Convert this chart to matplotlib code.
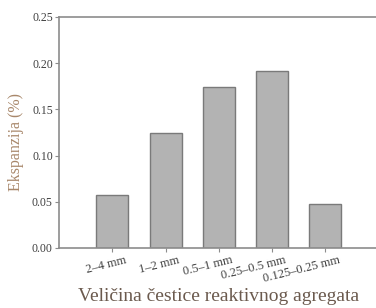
import matplotlib

matplotlib.use("Agg")
import matplotlib.pyplot as plt
import matplotlib.transforms as mtransforms

categories = ["2\u20134 mm", "1\u20132 mm", "0.5\u20131 mm", "0.25\u20130.5 mm", "0.125\u20130.25 mm"]
expansion = [0.057, 0.124, 0.174, 0.191, 0.048]
y_ticks = [0.00, 0.05, 0.10, 0.15, 0.20, 0.25]

plt.rcParams["font.family"] = ["Liberation Serif", "DejaVu Serif"]

fig = plt.figure(figsize=(3.76, 3.08), dpi=100)
ax = fig.add_axes([0.157, 0.195, 0.85, 0.75])

x = list(range(len(categories)))
ax.bar(x, expansion, width=0.6, color="#b3b3b3", edgecolor="#7a7a7a", linewidth=1.0)

ax.set_xlim(-1, 5)
ax.set_ylim(0, 0.25)
ax.set_yticks(y_ticks)
ax.set_yticklabels([f"{v:.2f}" for v in y_ticks])
ax.set_xticks(x)
ax.set_xticklabels(categories, rotation=14, ha="right", rotation_mode="anchor")

for side in ("left", "bottom", "top"):
    ax.spines[side].set_color("#8c8c8c")
    ax.spines[side].set_linewidth(1.2)
ax.spines["right"].set_visible(False)

ax.tick_params(axis="both", direction="out", length=3, width=0.8, color="#8c8c8c",
               labelcolor="#404040", pad=1.5)
ax.tick_params(axis="y", labelsize=8.5)
ax.tick_params(axis="x", labelsize=9)

# labels sit a bit to the right of their ticks in the original
offset = mtransforms.ScaledTranslation(9 / 72, 0, fig.dpi_scale_trans)
for label in ax.get_xticklabels():
    label.set_transform(label.get_transform() + offset)

ax.set_ylabel("Ekspanzija (%)", fontsize=11.5, color="#a8876a", labelpad=4)
ax.yaxis.set_label_coords(-0.11, 0.46)
ax.set_xlabel("Veli\u010dina \u010destice reaktivnog agregata", fontsize=14, color="#6b5a4e", labelpad=2)

fig.savefig("out.png", dpi=100)
plt.close(fig)
